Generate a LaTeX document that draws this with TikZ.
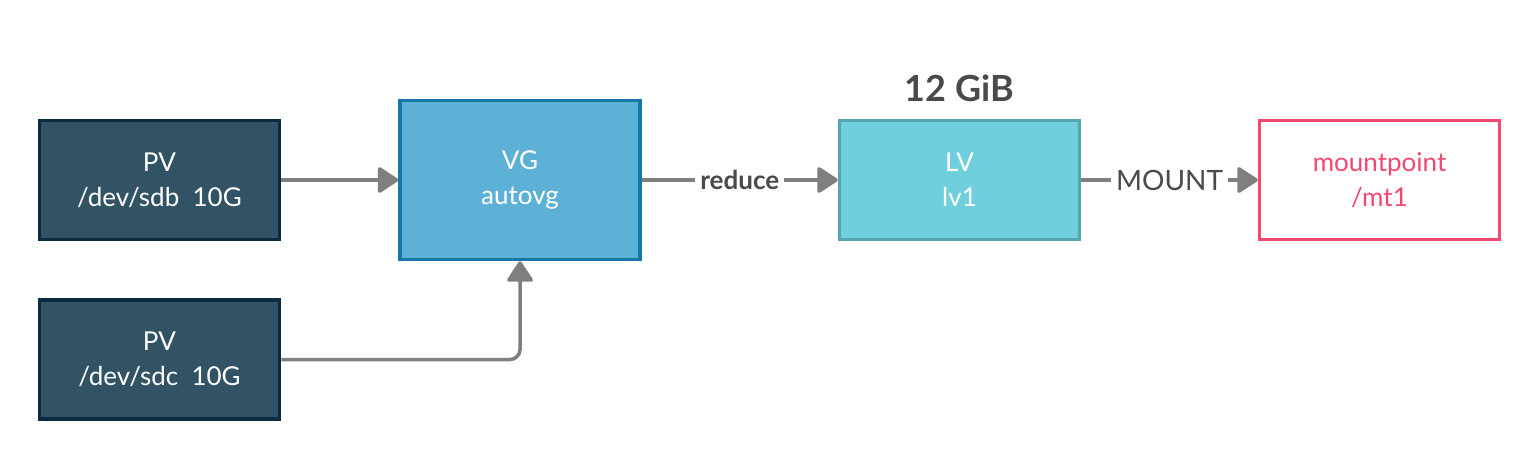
\documentclass[tikz,border=0pt]{standalone}
\usepackage{fontspec}
\setmainfont{Lato}
\usepackage{tikz}
\usetikzlibrary{positioning,arrows.meta}
\definecolor{pvfill}{HTML}{325364}
\definecolor{pvline}{HTML}{0D2B3E}
\definecolor{vgfill}{HTML}{5EB1D6}
\definecolor{vgline}{HTML}{1678A6}
\definecolor{lvfill}{HTML}{70CFDC}
\definecolor{lvline}{HTML}{56A5B0}
\definecolor{mntline}{HTML}{F24870}
\definecolor{conngray}{HTML}{7F7F7F}
\definecolor{txtgray}{HTML}{4A4A4A}
\begin{document}
\begin{tikzpicture}[x=0.5pt,y=-0.5pt,
    box/.style={draw, line width=1.75pt, minimum width=120pt, minimum height=59.5pt,
        align=center, font=\fontsize{13}{17.5}\selectfont, text=white},
    pvbox/.style={box, fill=pvfill, draw=pvline},
    conn/.style={draw=conngray, line width=1.75pt,
        -{Triangle[length=11pt,width=14pt,round]}},
    connlabel/.style={fill=white, inner sep=2.5pt, text=txtgray}]
    \useasboundingbox (0,0) rectangle (1540,460);
    \node[pvbox] (pvsdb) at (159.5,180) {PV\\/dev/sdb\ \ 10G};
    \node[pvbox] (pvsdc) at (159.5,359.5) {PV\\/dev/sdc\ \ 10G};
    \node[box, fill=vgfill, draw=vgline, minimum height=79.5pt] (autovg) at (520,180) {VG\\autovg};
    \node[box, fill=lvfill, draw=lvline] (lvone) at (959.5,180) {LV\\lv1};
    \node[box, fill=white, draw=mntline, text=mntline] (mnt) at (1379.5,180) {mountpoint\\/mt1};
    \node[above=8.5pt of lvone, inner sep=0pt, text=txtgray,
        font=\fontsize{18}{20}\bfseries] (lvsize) {12 GiB};
    \draw[conn] (pvsdb) -- (autovg);
    \draw[conn, rounded corners=5pt] (pvsdc.east) -| (autovg.south);
    \draw[conn] (autovg) -- node[connlabel, font=\fontsize{13}{15}\bfseries] {reduce} (lvone);
    \draw[conn] (lvone) -- node[connlabel, font=\fontsize{14}{15}\selectfont] {MOUNT} (mnt);
\end{tikzpicture}
\end{document}
